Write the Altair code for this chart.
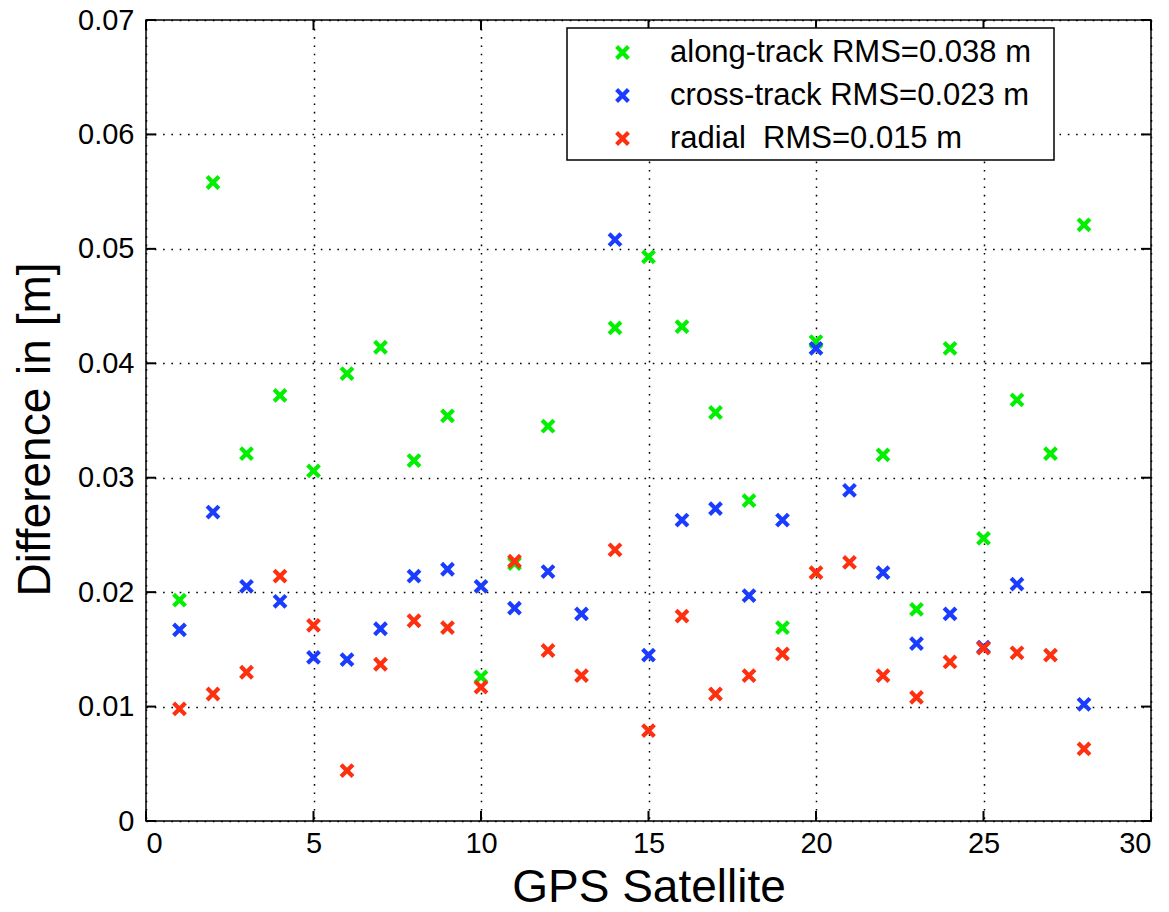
import altair as alt
import pandas as pd

satellites = list(range(1, 29))

along_sats = [1, 2, 3, 4, 5, 6, 7, 8, 9, 10, 11, 12, 14, 15, 16, 17, 18, 19, 20, 22, 23, 24, 25, 26, 27, 28]
along_vals = [0.0193, 0.0558, 0.0321, 0.0372, 0.0306, 0.0391, 0.0414, 0.0315, 0.0354, 0.0126,
              0.0225, 0.0345, 0.0431, 0.0493, 0.0432, 0.0357, 0.0280, 0.0169, 0.0419, 0.0320,
              0.0185, 0.0413, 0.0247, 0.0368, 0.0321, 0.0521]

cross_sats = [1, 2, 3, 4, 5, 6, 7, 8, 9, 10, 11, 12, 13, 14, 15, 16, 17, 18, 19, 20, 21, 22, 23, 24, 25, 26, 28]
cross_vals = [0.0167, 0.0270, 0.0205, 0.0192, 0.0143, 0.0141, 0.0168, 0.0214, 0.0220, 0.0205,
              0.0186, 0.0218, 0.0181, 0.0508, 0.0145, 0.0263, 0.0273, 0.0197, 0.0263, 0.0413,
              0.0289, 0.0217, 0.0155, 0.0181, 0.0152, 0.0207, 0.0102]

radial_sats = satellites
radial_vals = [0.0098, 0.0111, 0.0130, 0.0214, 0.0171, 0.0044, 0.0137, 0.0175, 0.0169, 0.0117,
               0.0227, 0.0149, 0.0127, 0.0237, 0.0079, 0.0179, 0.0111, 0.0127, 0.0146, 0.0217,
               0.0226, 0.0127, 0.0108, 0.0139, 0.0151, 0.0147, 0.0145, 0.0063]

series_names = ["along-track RMS=0.038 m", "cross-track RMS=0.023 m", "radial\u00a0 RMS=0.015 m"]
series_colors = ["#00f000", "#1a3cff", "#ff3010"]

x_ticks = [0, 5, 10, 15, 20, 25, 30]
y_ticks = [0, 0.01, 0.02, 0.03, 0.04, 0.05, 0.06, 0.07]

rows = []
for name, sats, vals in zip(series_names, [along_sats, cross_sats, radial_sats],
                            [along_vals, cross_vals, radial_vals]):
    for s, v in zip(sats, vals):
        rows.append({"sat": s, "value": v, "series": name})
df = pd.DataFrame(rows)
df["order"] = range(len(df))

W, H = 1005, 801
FONT = "Liberation Sans"
XPATH = "M -1 -1 L 1 1 M -1 1 L 1 -1"

xscale = alt.Scale(domain=[0, 30], nice=False, zero=False)
yscale = alt.Scale(domain=[0, 0.07], nice=False, zero=True)

grid_dash = [1.6, 6.7]

points = alt.Chart(df).mark_point(
    shape=XPATH, filled=False, strokeWidth=4.2, size=140, opacity=1
).encode(
    x=alt.X("sat:Q", scale=xscale,
            axis=alt.Axis(values=x_ticks, title="GPS Satellite", grid=True, gridDash=grid_dash,
                          gridColor="#000000", gridOpacity=1, gridWidth=1.5,
                          tickSize=0, domain=False, labelFontSize=29, labelFont=FONT,
                          labelColor="#000000", labelPadding=8, titleFontSize=46,
                          titleFont=FONT, titleFontWeight="normal", titleColor="#000000",
                          titlePadding=0, titleBaseline="alphabetic", titleY=80, titleX=W / 2,
                          format="d")),
    y=alt.Y("value:Q", scale=yscale,
            axis=alt.Axis(values=y_ticks, title="Difference in [m]", grid=True, gridDash=grid_dash,
                          gridColor="#000000", gridOpacity=1, gridWidth=1.5,
                          tickSize=0, domain=False, labelFontSize=29, labelFont=FONT,
                          labelColor="#000000", labelPadding=12,
                          labelExpr="datum.value == 0 ? '0' : format(datum.value, '.2f')",
                          titleFontSize=46, titleFont=FONT, titleFontWeight="normal",
                          titleColor="#000000", titleAngle=270, titleAlign="center",
                          titleBaseline="middle", titleX=-111, titleY=409)),
    color=alt.Color("series:N",
                    scale=alt.Scale(domain=series_names, range=series_colors),
                    legend=alt.Legend(title=None, orient="none", legendX=421, legendY=8,
                                      labelFontSize=31, labelFont=FONT, labelColor="#000000",
                                      symbolType=XPATH, symbolSize=140, symbolStrokeWidth=4.2,
                                      symbolFillColor="transparent",
                                      padding=9, symbolOffset=31, labelOffset=32,
                                      rowPadding=11, strokeColor="transparent",
                                      fillColor="transparent", labelLimit=600)),
    order=alt.Order("order:Q"),
)

# legend frame (white box with black border behind the legend entries)
frame = alt.Chart(pd.DataFrame({"k": [0]})).mark_rect(
    fill="#ffffff", stroke="#000000", strokeWidth=1.5
).encode(x=alt.value(421), x2=alt.value(908), y=alt.value(8), y2=alt.value(140))

xt = pd.DataFrame({"t": x_ticks})
yt = pd.DataFrame({"t": y_ticks})
tick_len = 10
xb = alt.Chart(xt).mark_rule(color="#000000", strokeWidth=2).encode(
    x=alt.X("t:Q", scale=xscale), y=alt.value(H), y2=alt.value(H - tick_len))
xtop = alt.Chart(xt).mark_rule(color="#000000", strokeWidth=2).encode(
    x=alt.X("t:Q", scale=xscale), y=alt.value(0), y2=alt.value(tick_len))
yl = alt.Chart(yt).mark_rule(color="#000000", strokeWidth=2).encode(
    y=alt.Y("t:Q", scale=yscale), x=alt.value(0), x2=alt.value(tick_len))
yr = alt.Chart(yt).mark_rule(color="#000000", strokeWidth=2).encode(
    y=alt.Y("t:Q", scale=yscale), x=alt.value(W - tick_len), x2=alt.value(W))

chart = alt.layer(xb, xtop, yl, yr, frame, points).properties(
    width=W, height=H,
    autosize=alt.AutoSizeParams(type="none"),
    padding={"left": 146, "top": 20, "right": 18, "bottom": 91},
    background="#ffffff",
).configure_view(stroke="#000000", strokeWidth=1.5).configure_axis(labelFont=FONT)

chart.save("out.html", embed_options={"renderer": "svg", "actions": False})
